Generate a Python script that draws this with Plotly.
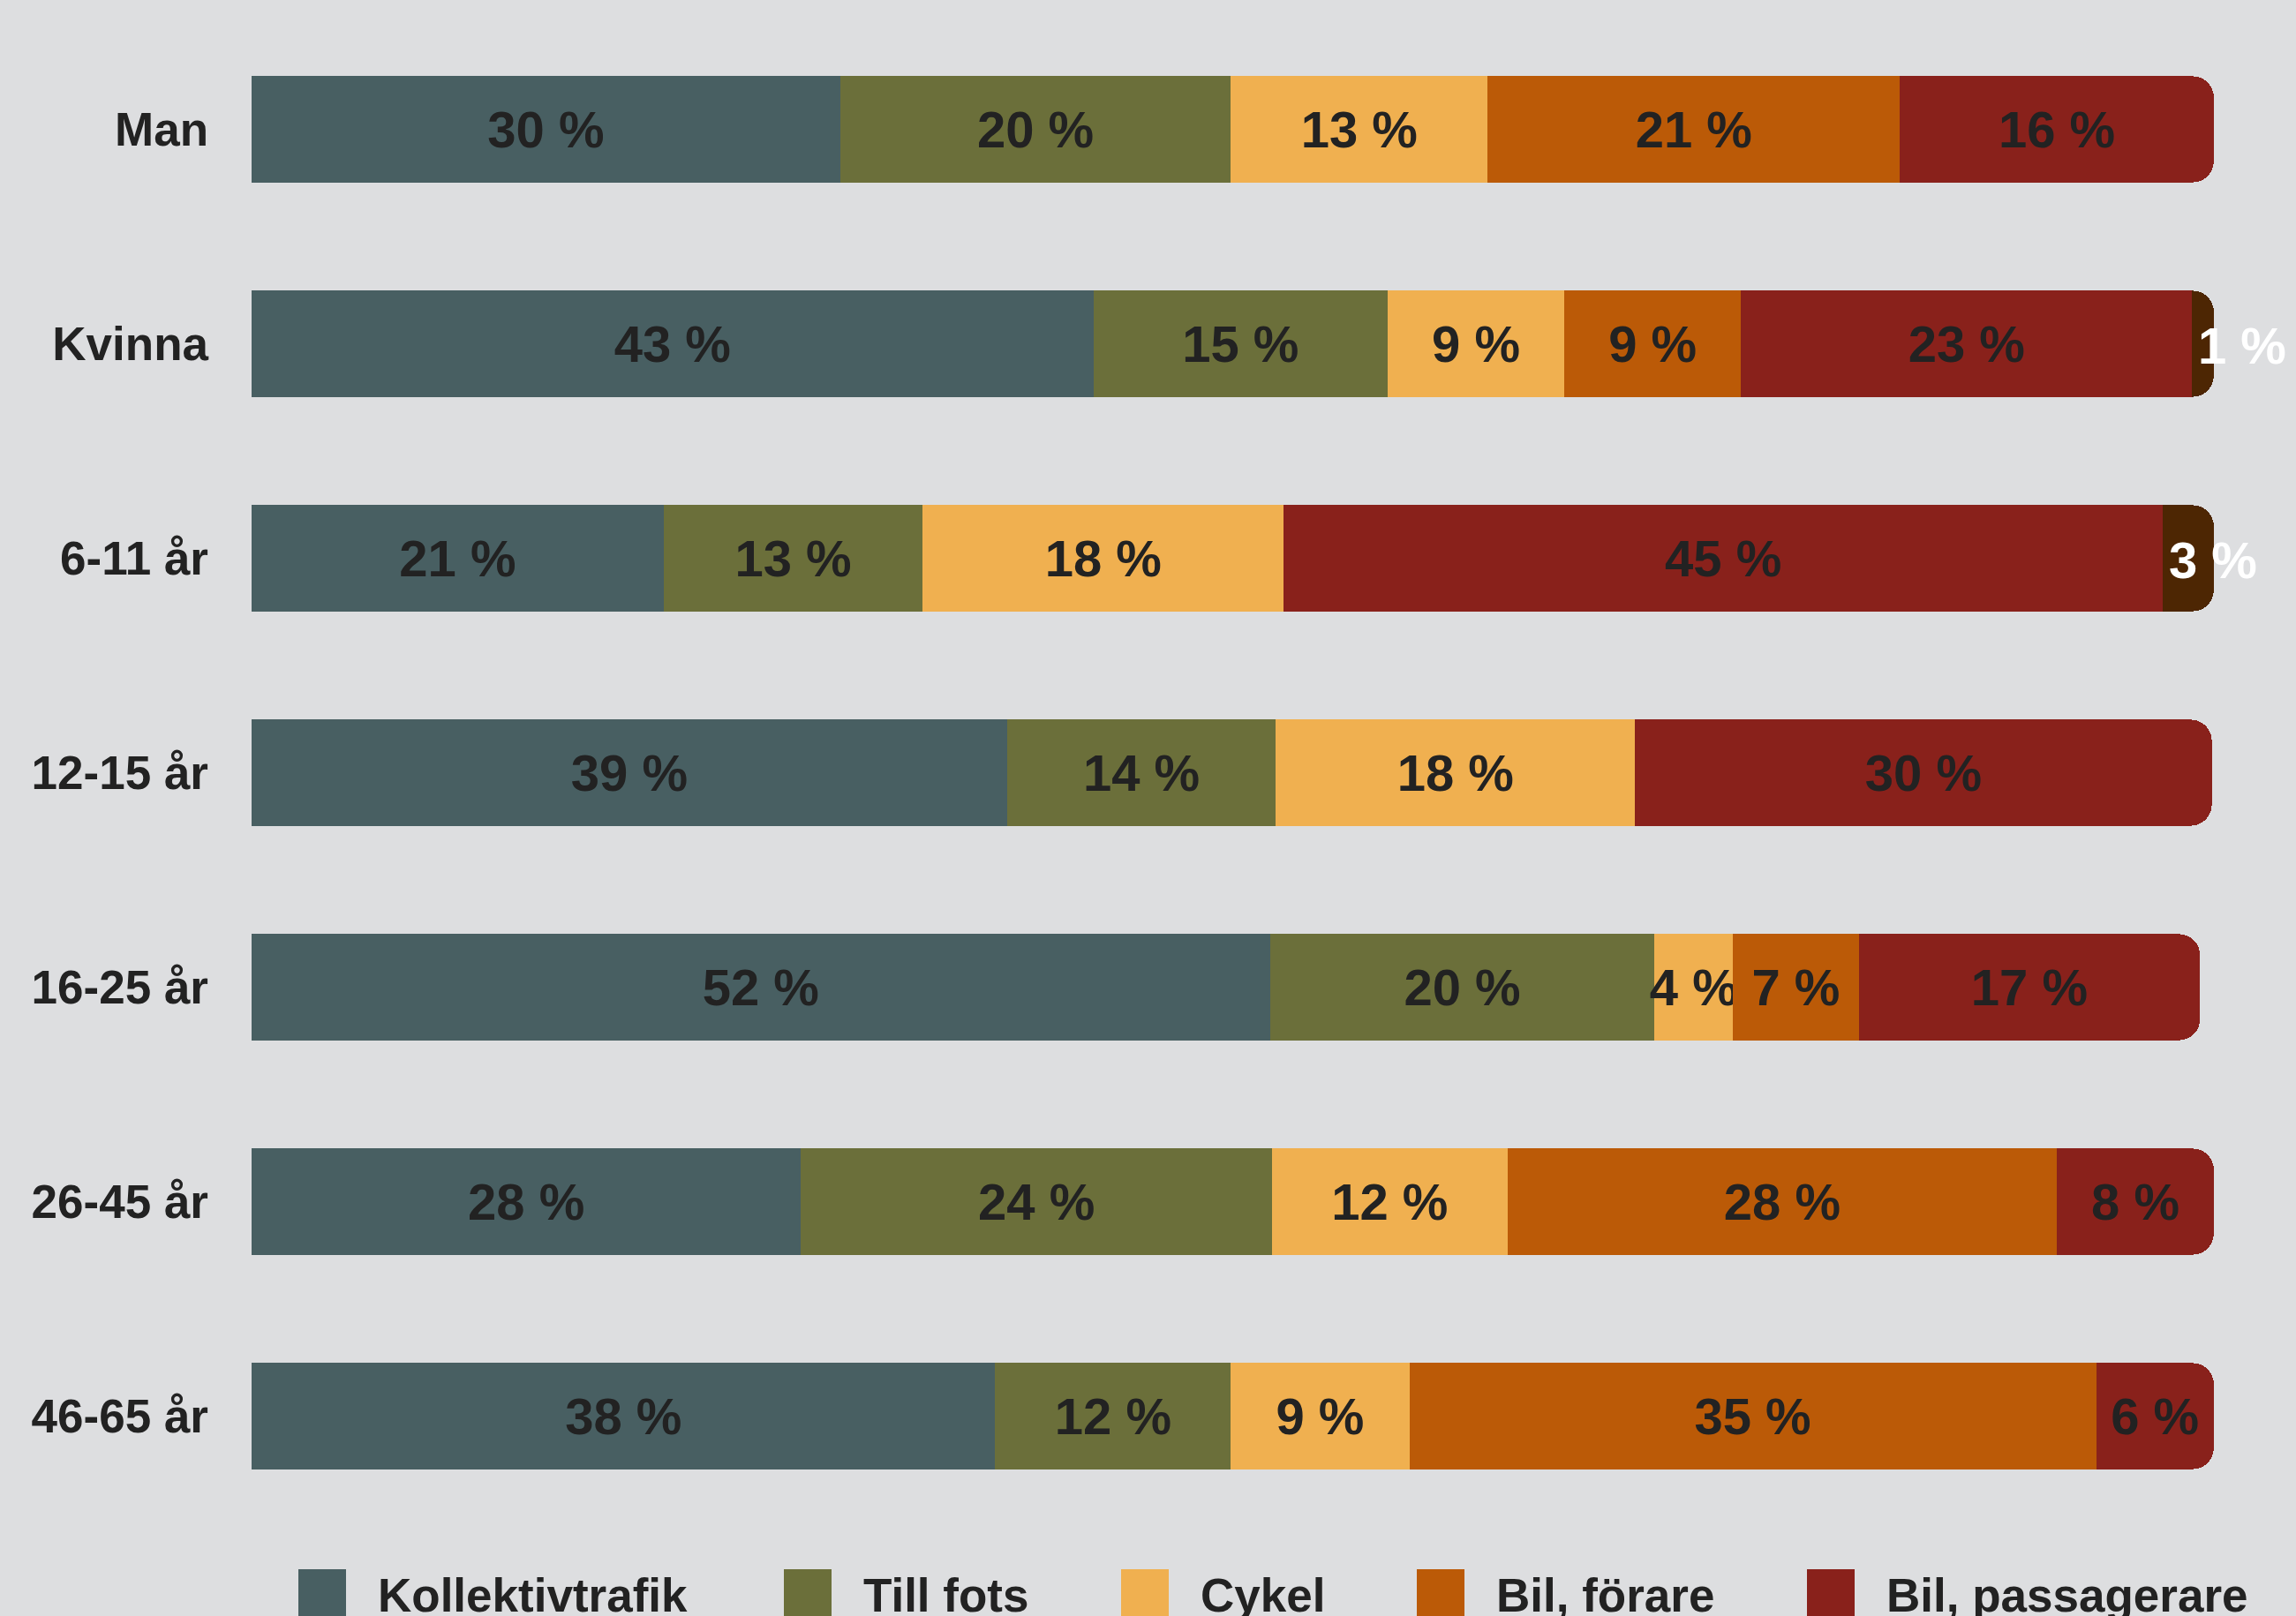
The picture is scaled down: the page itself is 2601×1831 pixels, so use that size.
import plotly.graph_objects as go

# categories (top to bottom)
categories = ["Man", "Kvinna", "6-11 år", "12-15 år", "16-25 år", "26-45 år", "46-65 år"]

series_names = ["Kollektivtrafik", "Till fots", "Cykel", "Bil, förare", "Bil, passagerare", "Annat"]

# share of trips, percent
kollektivtrafik = [30.0, 42.9, 21.0, 38.5, 51.9, 28.0, 37.9]
till_fots = [19.9, 15.0, 13.2, 13.7, 19.6, 24.0, 12.0]
cykel = [13.1, 9.0, 18.4, 18.3, 4.0, 12.0, 9.1]
bil_forare = [21.0, 9.0, None, None, 6.4, 28.0, 35.0]
bil_passagerare = [16.0, 23.0, 44.8, 29.4, 17.4, 8.0, 6.0]
annat = [None, 1.1, 2.6, None, None, None, None]

# printed labels
kollektivtrafik_lbl = ["30 %", "43 %", "21 %", "39 %", "52 %", "28 %", "38 %"]
till_fots_lbl = ["20 %", "15 %", "13 %", "14 %", "20 %", "24 %", "12 %"]
cykel_lbl = ["13 %", "9 %", "18 %", "18 %", "4 %", "12 %", "9 %"]
bil_forare_lbl = ["21 %", "9 %", "", "", "7 %", "28 %", "35 %"]
bil_passagerare_lbl = ["16 %", "23 %", "45 %", "30 %", "17 %", "8 %", "6 %"]
annat_lbl = ["", "1 %", "3 %", "", "", "", ""]

values = [kollektivtrafik, till_fots, cykel, bil_forare, bil_passagerare, annat]
labels = [kollektivtrafik_lbl, till_fots_lbl, cykel_lbl, bil_forare_lbl,
          bil_passagerare_lbl, annat_lbl]

colors = ["#485f62", "#6b6f3a", "#f0b050", "#bb5a07", "#89211b", "#4d2603"]

BG = "#dddee0"
INK = "#222222"
FONT = "Liberation Sans, Arial, Helvetica, sans-serif"
W, H = 2601, 1831
M_L, M_R, M_T, M_B = 285, 92, 25, 105

fig = go.Figure()
for i, name in enumerate(series_names):
    is_last = i == len(series_names) - 1
    fig.add_trace(
        go.Bar(
            y=categories,
            x=values[i],
            name=name,
            orientation="h",
            marker=dict(color=colors[i], line=dict(width=0)),
            # the thin "Annat" slices get their labels as annotations below
            text=None if is_last else labels[i],
            textposition="inside",
            insidetextanchor="middle",
            constraintext="none",
            textangle=0,
            cliponaxis=False,
            insidetextfont=dict(family=FONT, size=58, color=INK, weight="bold"),
            showlegend=False,
            hoverinfo="skip",
        )
    )

# labels of the thin last slices: white, starting at the slice's left edge
for row, cat in enumerate(categories):
    if not annat_lbl[row]:
        continue
    start = sum(v[row] for v in values[:-1] if v[row] is not None)
    fig.add_annotation(
        x=start, y=cat, xref="x", yref="y", text=annat_lbl[row],
        xanchor="left", yanchor="middle", xshift=5, yshift=-2, showarrow=False,
        font=dict(family=FONT, size=58, color="#ffffff", weight="bold"),
    )

fig.update_layout(
    width=W,
    height=H,
    barmode="stack",
    bargap=0.505,
    barcornerradius=24,
    paper_bgcolor=BG,
    plot_bgcolor=BG,
    margin=dict(l=M_L, r=M_R, t=M_T, b=M_B, pad=0),
    showlegend=False,
    font=dict(family=FONT, color=INK),
)
fig.update_xaxes(range=[0, 100.05], visible=False, showgrid=False, zeroline=False)
fig.update_yaxes(
    autorange="reversed",
    showgrid=False,
    zeroline=False,
    showline=False,
    ticks="",
    ticklabelstandoff=48,
    tickfont=dict(family=FONT, size=53, color=INK, weight="bold"),
)

# hand-drawn legend with big square swatches along the bottom edge
plot_w = W - M_L - M_R
plot_h = H - M_T - M_B


def px_x(px):
    return (px - M_L) / plot_w


def px_y(py):
    return (H - M_B - py) / plot_h


legend_x = [338, 888, 1270, 1605, 2047]
for i, name in enumerate(series_names[:5]):
    x0 = legend_x[i]
    fig.add_shape(
        type="rect", xref="paper", yref="paper",
        x0=px_x(x0), x1=px_x(x0 + 54), y0=px_y(1778), y1=px_y(1832),
        fillcolor=colors[i], line=dict(width=0), layer="above",
    )
    fig.add_annotation(
        xref="paper", yref="paper", x=px_x(x0 + 88), y=px_y(1807),
        xanchor="left", yanchor="middle", text=name, showarrow=False,
        font=dict(family=FONT, size=53, color=INK, weight="bold"),
    )

fig.write_html(
    "out.html",
    config={"displayModeBar": False},
    post_script="document.body.style.margin='0';document.body.style.overflow='hidden';",
)
